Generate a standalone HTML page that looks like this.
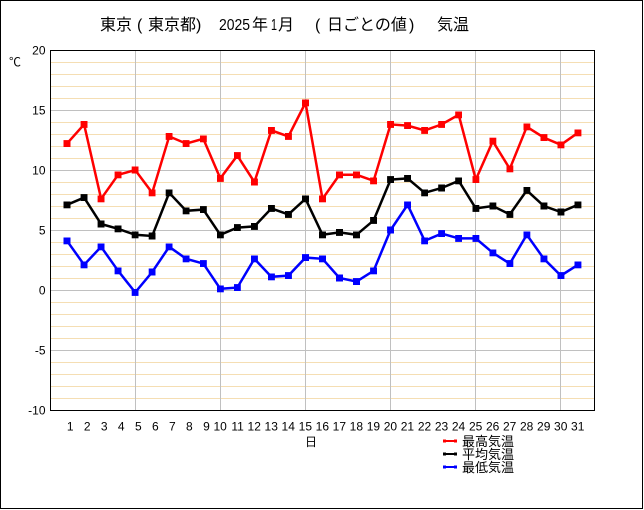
<!DOCTYPE html>
<html>
<head>
<meta charset="utf-8">
<style>
html,body{margin:0;padding:0;background:#fff;}
svg{display:block;}
.cjk{font-family:"Liberation Sans","Noto Sans CJK JP",sans-serif;}
.num{font-family:"Liberation Sans",sans-serif;}
</style>
</head>
<body>
<svg width="644" height="510" viewBox="0 0 644 510" xmlns="http://www.w3.org/2000/svg">
<defs>
  <marker id="mr" viewBox="0 0 7 7" refX="3.5" refY="3.5" markerWidth="7" markerHeight="7" markerUnits="userSpaceOnUse"><rect x="0" y="0" width="7" height="7" fill="#ff0000"/></marker>
  <marker id="mk" viewBox="0 0 7 7" refX="3.5" refY="3.5" markerWidth="7" markerHeight="7" markerUnits="userSpaceOnUse"><rect x="0" y="0" width="7" height="7" fill="#000000"/></marker>
  <marker id="mb" viewBox="0 0 7 7" refX="3.5" refY="3.5" markerWidth="7" markerHeight="7" markerUnits="userSpaceOnUse"><rect x="0" y="0" width="7" height="7" fill="#0000ff"/></marker>
</defs>
<rect x="0" y="0" width="644" height="510" fill="#fff"/>
<rect x="0.5" y="0.5" width="642" height="508" fill="none" stroke="#000" stroke-width="1"/>

<!-- title -->
<g class="cjk" font-size="16" fill="#000">
  <text x="100" y="30">東京</text>
  <text x="137" y="30" font-family="Liberation Sans">(</text>
  <text x="148" y="30">東京都</text>
  <text x="196" y="30" font-family="Liberation Sans">)</text>
  <text x="219" y="30" font-family="Liberation Sans" textLength="31" lengthAdjust="spacingAndGlyphs">2025</text>
  <text x="252" y="30">年</text>
  <text x="271" y="30" font-family="Liberation Sans" textLength="6" lengthAdjust="spacingAndGlyphs">1</text>
  <text x="278" y="30">月</text>
  <text x="315" y="30" font-family="Liberation Sans">(</text>
  <text x="327" y="30">日ごとの値</text>
  <text x="409" y="30" font-family="Liberation Sans">)</text>
  <text x="437" y="30">気温</text>
</g>

<!-- grid -->
<g stroke="#f5deb3" stroke-width="1" shape-rendering="crispEdges">
  <line x1="50" x2="594" y1="62.5" y2="62.5"/><line x1="50" x2="594" y1="74.5" y2="74.5"/><line x1="50" x2="594" y1="86.5" y2="86.5"/><line x1="50" x2="594" y1="98.5" y2="98.5"/>
  <line x1="50" x2="594" y1="122.5" y2="122.5"/><line x1="50" x2="594" y1="134.5" y2="134.5"/><line x1="50" x2="594" y1="146.5" y2="146.5"/><line x1="50" x2="594" y1="158.5" y2="158.5"/>
  <line x1="50" x2="594" y1="182.5" y2="182.5"/><line x1="50" x2="594" y1="194.5" y2="194.5"/><line x1="50" x2="594" y1="206.5" y2="206.5"/><line x1="50" x2="594" y1="218.5" y2="218.5"/>
  <line x1="50" x2="594" y1="242.5" y2="242.5"/><line x1="50" x2="594" y1="254.5" y2="254.5"/><line x1="50" x2="594" y1="266.5" y2="266.5"/><line x1="50" x2="594" y1="278.5" y2="278.5"/>
  <line x1="50" x2="594" y1="302.5" y2="302.5"/><line x1="50" x2="594" y1="314.5" y2="314.5"/><line x1="50" x2="594" y1="326.5" y2="326.5"/><line x1="50" x2="594" y1="338.5" y2="338.5"/>
  <line x1="50" x2="594" y1="362.5" y2="362.5"/><line x1="50" x2="594" y1="374.5" y2="374.5"/><line x1="50" x2="594" y1="386.5" y2="386.5"/><line x1="50" x2="594" y1="398.5" y2="398.5"/>
</g>
<g stroke="#c0c0c0" stroke-width="1" shape-rendering="crispEdges">
  <line x1="50" x2="594" y1="110.5" y2="110.5"/><line x1="50" x2="594" y1="170.5" y2="170.5"/><line x1="50" x2="594" y1="230.5" y2="230.5"/><line x1="50" x2="594" y1="290.5" y2="290.5"/><line x1="50" x2="594" y1="350.5" y2="350.5"/>
  <line x1="135.5" x2="135.5" y1="50" y2="410"/><line x1="220.5" x2="220.5" y1="50" y2="410"/><line x1="305.5" x2="305.5" y1="50" y2="410"/><line x1="390.5" x2="390.5" y1="50" y2="410"/><line x1="475.5" x2="475.5" y1="50" y2="410"/><line x1="560.5" x2="560.5" y1="50" y2="410"/>
</g>
<rect x="50.5" y="50.5" width="544" height="360" fill="none" stroke="#000" stroke-width="1" shape-rendering="crispEdges"/>

<!-- y labels -->
<g font-family="Liberation Sans, sans-serif" font-size="12" fill="#000" text-anchor="end">
  <text x="45.5" y="54.5">20</text>
  <text x="45.5" y="114.5">15</text>
  <text x="45.5" y="174.5">10</text>
  <text x="45.5" y="234.5">5</text>
  <text x="45.5" y="294.5">0</text>
  <text x="45.5" y="354.5">-5</text>
  <text x="45.5" y="414.5">-10</text>
</g>
<text x="9" y="66" class="cjk" font-size="12" fill="#000">℃</text>

<!-- x labels -->
<g font-family="Liberation Sans, sans-serif" font-size="12" fill="#000" text-anchor="end">
  <text x="73.5" y="430.5">1</text><text x="90.6" y="430.5">2</text><text x="107.6" y="430.5">3</text><text x="124.6" y="430.5">4</text><text x="141.7" y="430.5">5</text>
  <text x="158.7" y="430.5">6</text><text x="175.7" y="430.5">7</text><text x="192.7" y="430.5">8</text><text x="209.8" y="430.5">9</text><text x="226.8" y="430.5">10</text>
  <text x="243.8" y="430.5">11</text><text x="260.9" y="430.5">12</text><text x="277.9" y="430.5">13</text><text x="294.9" y="430.5">14</text><text x="312" y="430.5">15</text>
  <text x="329" y="430.5">16</text><text x="346" y="430.5">17</text><text x="363" y="430.5">18</text><text x="380.1" y="430.5">19</text><text x="397.1" y="430.5">20</text>
  <text x="414.1" y="430.5">21</text><text x="431.2" y="430.5">22</text><text x="448.2" y="430.5">23</text><text x="465.2" y="430.5">24</text><text x="482.3" y="430.5">25</text>
  <text x="499.3" y="430.5">26</text><text x="516.3" y="430.5">27</text><text x="533.3" y="430.5">28</text><text x="550.4" y="430.5">29</text><text x="567.4" y="430.5">30</text>
  <text x="584.4" y="430.5">31</text>
</g>
<text x="305" y="446" class="cjk" font-size="12" fill="#000">日</text>

<!-- series -->
<polyline fill="none" stroke="#ff0000" stroke-width="2.5" stroke-linejoin="miter" marker-start="url(#mr)" marker-mid="url(#mr)" marker-end="url(#mr)"
 points="67,143.6 84.1,124.4 101.1,198.8 118.1,174.8 135.2,170 152.2,192.8 169.2,136.4 186.2,143.6 203.3,138.8 220.3,178.4 237.3,155.6 254.4,182 271.4,130.4 288.4,136.4 305.5,102.8 322.5,198.8 339.5,174.8 356.5,174.8 373.6,180.8 390.6,124.4 407.6,125.6 424.7,130.4 441.7,124.4 458.7,114.8 475.8,179.6 492.8,141.2 509.8,168.8 526.8,126.8 543.9,137.6 560.9,144.8 577.9,132.8"/>
<polyline fill="none" stroke="#000000" stroke-width="2.5" stroke-linejoin="miter" marker-start="url(#mk)" marker-mid="url(#mk)" marker-end="url(#mk)"
 points="67,204.8 84.1,197.6 101.1,224 118.1,228.8 135.2,234.8 152.2,236 169.2,192.8 186.2,210.8 203.3,209.6 220.3,234.8 237.3,227.6 254.4,226.4 271.4,208.4 288.4,214.4 305.5,198.8 322.5,234.8 339.5,232.4 356.5,234.8 373.6,220.4 390.6,179.6 407.6,178.4 424.7,192.8 441.7,188 458.7,180.8 475.8,208.4 492.8,206 509.8,214.4 526.8,190.4 543.9,206 560.9,212 577.9,204.8"/>
<polyline fill="none" stroke="#0000ff" stroke-width="2.5" stroke-linejoin="miter" marker-start="url(#mb)" marker-mid="url(#mb)" marker-end="url(#mb)"
 points="67,240.8 84.1,264.8 101.1,246.8 118.1,270.8 135.2,292.4 152.2,272 169.2,246.8 186.2,258.8 203.3,263.6 220.3,288.8 237.3,287.6 254.4,258.8 271.4,276.8 288.4,275.6 305.5,257.6 322.5,258.8 339.5,278 356.5,281.6 373.6,270.8 390.6,230 407.6,204.8 424.7,240.8 441.7,233.6 458.7,238.4 475.8,238.4 492.8,252.8 509.8,263.6 526.8,234.8 543.9,258.8 560.9,275.6 577.9,264.8"/>

<!-- legend -->
<g shape-rendering="crispEdges">
  <rect x="443" y="440" width="14" height="2" fill="#ff0000"/>
  <rect x="443" y="439.5" width="3" height="3" fill="#ff0000"/><rect x="454" y="439.5" width="3" height="3" fill="#ff0000"/>
  <rect x="443" y="453" width="14" height="2" fill="#000"/>
  <rect x="443" y="452.5" width="3" height="3" fill="#000"/><rect x="454" y="452.5" width="3" height="3" fill="#000"/>
  <rect x="443" y="466" width="14" height="2" fill="#0000ff"/>
  <rect x="443" y="465.5" width="3" height="3" fill="#0000ff"/><rect x="454" y="465.5" width="3" height="3" fill="#0000ff"/>
</g>
<g class="cjk" font-size="13" fill="#000">
  <text x="462" y="446">最高気温</text>
  <text x="462" y="459">平均気温</text>
  <text x="462" y="472">最低気温</text>
</g>
</svg>
</body>
</html>
